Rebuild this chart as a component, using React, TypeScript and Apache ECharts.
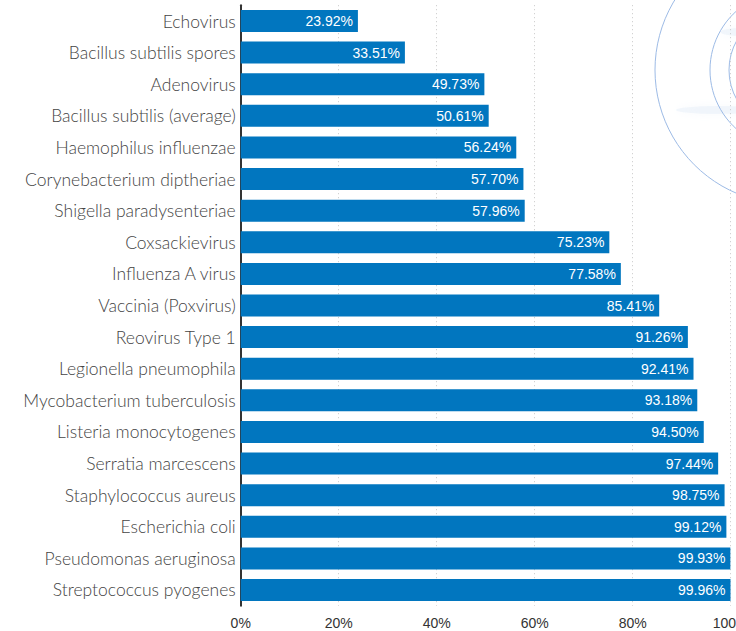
import React, { useEffect, useRef } from "react";
import * as echarts from "echarts";

const categories = [
  "Echovirus",
  "Bacillus subtilis spores",
  "Adenovirus",
  "Bacillus subtilis (average)",
  "Haemophilus influenzae",
  "Corynebacterium diptheriae",
  "Shigella paradysenteriae",
  "Coxsackievirus",
  "Influenza A virus",
  "Vaccinia (Poxvirus)",
  "Reovirus Type 1",
  "Legionella pneumophila",
  "Mycobacterium tuberculosis",
  "Listeria monocytogenes",
  "Serratia marcescens",
  "Staphylococcus aureus",
  "Escherichia coli",
  "Pseudomonas aeruginosa",
  "Streptococcus pyogenes",
];

const values = [
  23.92, 33.51, 49.73, 50.61, 56.24, 57.7, 57.96, 75.23, 77.58, 85.41, 91.26,
  92.41, 93.18, 94.5, 97.44, 98.75, 99.12, 99.93, 99.96,
];

const xTicks = [0, 20, 40, 60, 80, 100];

export default function App() {
  const ref = useRef<HTMLDivElement>(null);
  useEffect(() => {
    if (!ref.current) return;
    const chart = echarts.init(ref.current, undefined, { renderer: "svg" });
    const cx = 789;
    const cy = 70;
    chart.setOption({
      animation: false,
      backgroundColor: "#ffffff",
      graphic: [
        {
          type: "ellipse",
          z: -10,
          silent: true,
          shape: { cx: 718, cy: 110, rx: 42, ry: 4 },
          style: { fill: "rgba(228,237,248,0.45)", shadowBlur: 10, shadowColor: "rgba(228,237,248,0.7)" },
        },
        {
          type: "ellipse",
          z: -10,
          silent: true,
          shape: { cx: 742, cy: 32, rx: 22, ry: 4 },
          style: { fill: "rgba(228,237,248,0.45)", shadowBlur: 10, shadowColor: "rgba(228,237,248,0.7)" },
        },
        {
          type: "circle",
          z: -5,
          silent: true,
          shape: { cx, cy, r: 134 },
          style: { fill: "none", stroke: "#9dbbe6", lineWidth: 1 },
        },
        {
          type: "circle",
          z: -5,
          silent: true,
          shape: { cx, cy, r: 79 },
          style: { fill: "none", stroke: "#9dbbe6", lineWidth: 1 },
        },
        {
          type: "circle",
          z: -5,
          silent: true,
          shape: { cx, cy, r: 60 },
          style: { fill: "none", stroke: "#9dbbe6", lineWidth: 1 },
        },
      ],
      grid: {
        left: 240.7,
        right: 5.3,
        top: 5.2,
        bottom: 25.2,
        containLabel: false,
        outerBoundsMode: "none",
      },
      xAxis: {
        type: "value",
        min: xTicks[0],
        max: xTicks[xTicks.length - 1],
        interval: 20,
        axisLine: { show: false },
        axisTick: { show: false },
        splitLine: {
          show: true,
          lineStyle: { color: "#c8c8c8", type: [1, 3], width: 1 },
        },
        axisLabel: {
          formatter: (v: number) => `${v}%`,
          color: "#333",
          fontSize: 14,
          fontFamily: "Liberation Sans, Arial, sans-serif",
          margin: 10,
        },
      },
      yAxis: {
        type: "category",
        inverse: true,
        data: categories,
        axisLine: { show: true, lineStyle: { color: "#333", width: 2 } },
        axisTick: { show: false },
        axisLabel: {
          color: "#444",
          fontSize: 17.5,
          fontWeight: 300,
          fontFamily: "Lato, sans-serif",
          margin: 5,
        },
      },
      series: [
        {
          type: "bar",
          data: values,
          barWidth: 22,
          itemStyle: { color: "#0176bf" },
          label: {
            show: true,
            position: "insideRight",
            distance: 5,
            color: "#ffffff",
            fontSize: 14,
            fontFamily: "Liberation Sans, Arial, sans-serif",
            formatter: (p: any) => `${p.value.toFixed(2)}%`,
          },
        },
      ],
    });
    return () => chart.dispose();
  }, []);
  return (
    <div
      ref={ref}
      style={{ position: "fixed", left: 0, top: 0, width: 736, height: 631 }}
    />
  );
}
